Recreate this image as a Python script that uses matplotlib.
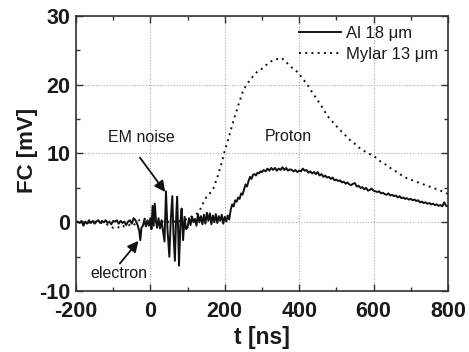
import matplotlib
matplotlib.use("Agg")
import matplotlib.pyplot as plt
from matplotlib.ticker import MultipleLocator

plt.rcParams['font.family'] = ['Liberation Sans', 'DejaVu Sans']
plt.rcParams['axes.unicode_minus'] = False

# ---- data ----
al_t = [-200, -195, -190, -185, -180, -175, -170, -165, -160, -155, -150, -145, -140, -135,
        -130, -125, -120, -115, -110, -105, -100, -95, -90, -85, -80, -75, -70, -65, -60, -55,
        -50, -45, -40, -35, -30, -27, -24, -20, -16, -12, -8, -4, 0, 3, 6, 9, 12, 15, 18, 22,
        26, 30, 34, 38, 42, 46, 51, 55, 59, 62, 66, 69, 72, 75, 77, 81, 84, 88, 92, 96,
        100, 104, 108, 112, 116, 120, 124, 128, 132, 136, 140, 144, 148, 152, 156, 160, 164,
        168, 172, 176, 180, 184, 188, 192, 196, 200, 204, 208, 212,
        216, 220, 224, 228, 232, 236, 240, 244, 248, 252, 256, 260, 264, 268, 272, 276, 280,
        284, 288, 292, 296, 300, 305, 310, 315, 320, 325, 330, 335, 340, 345, 350, 355, 360,
        365, 370, 375, 380, 385, 390, 395, 400, 405, 410, 415, 420, 425, 430, 435, 440, 445,
        450, 455, 460, 465, 470, 475, 480, 485, 490, 495, 500, 505, 510, 515, 520, 525, 530,
        535, 540, 545, 550, 555, 560, 565, 570, 575, 580, 585, 590, 595, 600, 605, 610, 615,
        620, 625, 630, 635, 640, 645, 650, 655, 660, 665, 670, 675, 680, 685, 690, 695, 700,
        705, 710, 715, 720, 725, 730, 735, 740, 745, 750, 755, 760, 765, 770, 775, 780, 785,
        790, 795, 800]
al_v = [0.0, 0.1, -0.1, 0.2, -0.5, 0.1, -0.2, 0.3, -0.1, 0.2, -0.2, 0.1, 0.3, -0.1,
        0.2, 0.0, 0.3, -0.1, 0.1, -0.3, 0.2, 0.1, 0.3, -0.2, 0.2, -0.1, 0.1, -0.4, 0.1, 0.3,
        -0.2, 0.6, 0.3, -0.3, -1.2, -2.6, -0.8, -0.5, 0.4, -0.6, 0.3, -0.5, 0.6, -1.0, 2.4, -0.5,
        2.7, 0.3, -0.8, 0.6, -0.9, 0.3, -1.2, -2.8, 4.5, -1.0, -5.0, 0.5, 3.8, -1.5, -5.6, 0.2,
        3.7, -1.5, -6.3, 0.0, 2.0, -2.6, 0.8, -1.0,
        -0.8, 0.6, -0.4, 0.8, 0.0, 0.5, -0.5, 1.2, 0.0, 0.9, -0.3, 1.1, -0.2, 1.4, 0.2, 1.3,
        -0.3, 1.0, 0.0, 1.2, -0.1, 0.9, 0.2, 1.1, -0.2, 0.8, 0.1, 1.0, 0.4,
        1.8, 2.6, 2.3, 3.2, 3.0, 3.6, 3.4, 4.2, 4.0, 4.8, 5.5, 5.2, 6.0, 6.6, 6.3, 6.9, 7.0,
        6.8, 7.2, 7.1, 7.4, 7.3, 7.6, 7.4, 7.8, 7.5, 7.9, 7.6, 7.9, 7.5, 7.8, 7.6, 8.0, 7.6,
        7.9, 7.5, 7.7, 7.6, 7.4, 7.6, 7.3, 7.5, 7.4, 7.8, 7.5, 7.6, 7.2, 7.4, 7.1, 7.3, 7.0,
        7.3, 6.8, 7.0, 6.6, 6.8, 6.5, 6.6, 6.3, 6.5, 6.1, 6.2, 6.0, 6.1, 5.8, 5.9, 5.6, 5.8,
        5.5, 5.4, 5.6, 5.7, 5.2, 5.3, 5.0, 5.1, 4.8, 5.0, 4.6, 4.7, 4.9, 4.6, 4.5, 4.4, 4.5,
        4.2, 4.3, 4.1, 4.0, 4.2, 3.9, 4.0, 3.8, 3.9, 3.6, 3.8, 3.5, 3.6, 3.4, 3.5, 3.3, 3.4,
        3.2, 3.3, 3.1, 3.2, 2.9, 3.0, 2.8, 2.9, 2.7, 2.8, 2.6, 2.7, 2.5, 2.6, 2.4, 2.5, 2.3,
        2.9, 2.4, 2.3]

mylar_t = list(range(-200, 801, 10))
mylar_v = [0.0, 0.1, 0.0, -0.1, 0.0, 0.1, 0.0, -0.1, -0.2, -0.5,
           -0.8, -0.6, -0.9, -0.5, -0.3, -0.6, -0.2, 0.3, 0.6, 0.4,
           0.3, 0.2, 0.0, 0.2, -0.1, 0.1, 0.2, 0.0, 0.2, 0.3,
           0.5, 0.8, 1.1, 1.4, 2.6, 3.6, 4.2, 5.0, 6.5, 8.3,
           10.4, 12.2, 14.1, 15.9, 17.6, 19.2, 20.1, 20.8, 21.5, 22.0,
           22.3, 22.8, 23.2, 23.6, 23.7, 23.9, 23.6, 23.0, 22.5, 22.1,
           21.6, 20.8, 20.2, 19.3, 18.5, 17.7, 16.9, 16.0, 15.2, 14.6,
           14.0, 13.4, 12.9, 12.3, 11.8, 11.4, 10.9, 10.5, 10.2, 9.9,
           9.7, 9.2, 8.8, 8.5, 8.1, 7.7, 7.4, 7.0, 6.7, 6.4,
           6.2, 6.0, 5.8, 5.6, 5.4, 5.2, 5.0, 4.8, 4.6, 4.4,
           4.1]

series_labels = ["Al 18 \u03bcm", "Mylar 13 \u03bcm"]
xticks = [-200, 0, 200, 400, 600, 800]
yticks = [-10, 0, 10, 20, 30]

# annotation anchor points (data coords)
em_text = (-25, 12.3)
em_tail = (-28, 9.4)
em_head = (40, 4.4)
el_text = (-86, -7.5)
el_tail = (-82, -6.0)
el_head = (-32, -2.7)
proton_text = (370, 12.5)

# ---- figure ----
fig = plt.figure(figsize=(4.69, 3.52), dpi=100)
ax = fig.add_axes([0.162, 0.173, 0.793, 0.782])

ax.plot(al_t, al_v, color='#111111', lw=1.4, label=series_labels[0])
ax.plot(mylar_t, mylar_v, color='#111111', lw=1.4, linestyle=(0, (1, 2.2)),
        label=series_labels[1])

ax.set_xlim(-200, 800)
ax.set_ylim(-10, 30)
ax.set_xticks(xticks)
ax.set_yticks(yticks)
ax.xaxis.set_minor_locator(MultipleLocator(100))
ax.yaxis.set_minor_locator(MultipleLocator(5))
ax.tick_params(which='both', direction='in', top=True, right=True, color='#333333')
ax.tick_params(which='major', length=5, width=1.0)
ax.tick_params(which='minor', length=3, width=1.0)
for lab in ax.get_xticklabels() + ax.get_yticklabels():
    lab.set_fontweight('bold')
    lab.set_fontsize(15.5)
    lab.set_color('#1a1a1a')
ax.tick_params(axis='x', pad=7)
ax.tick_params(axis='y', pad=4)
for s in ax.spines.values():
    s.set_linewidth(1.2)
    s.set_color('#333333')

ax.grid(True, which='major', linestyle=(0, (1, 1.5)), color='#aaaaaa', lw=0.8)
ax.set_axisbelow(True)

ax.set_xlabel("t [ns]", fontsize=16.5, fontweight='bold', color='#1a1a1a')
ax.xaxis.set_label_coords(0.5, -0.128)
ax.set_ylabel("FC [mV]", fontsize=16, fontweight='bold', color='#1a1a1a')
ax.yaxis.set_label_coords(-0.102, 0.51)

leg = ax.legend(loc='upper right', bbox_to_anchor=(1.0, 1.0), frameon=False,
                fontsize=12, handlelength=2.5, handletextpad=0.3, labelspacing=0.35,
                borderaxespad=0.2)
for t in leg.get_texts():
    t.set_color('#1a1a1a')

ax.text(*proton_text, "Proton", fontsize=11.5, ha='center', va='center', color='#1a1a1a')
ax.text(*em_text, "EM noise", fontsize=11.5, ha='center', va='center', color='#1a1a1a')
ax.text(*el_text, "electron", fontsize=11.5, ha='center', va='center', color='#1a1a1a')
for tail, head in [(em_tail, em_head), (el_tail, el_head)]:
    ax.annotate("", xy=head, xytext=tail,
                arrowprops=dict(arrowstyle='-|>', color='#111111', lw=1.3,
                                mutation_scale=16, shrinkA=0, shrinkB=0))

fig.savefig("out.png", dpi=100)
